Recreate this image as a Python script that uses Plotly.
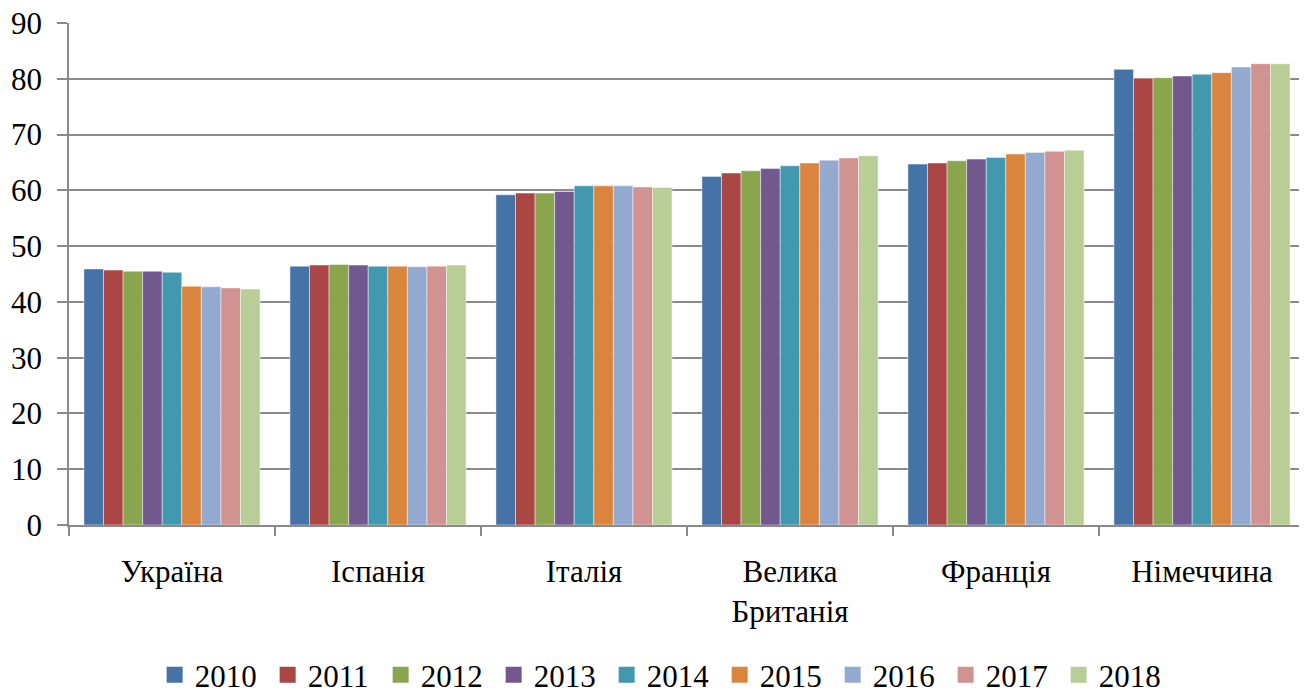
import plotly.graph_objects as go

countries = ["Україна", "Іспанія", "Італія", "Велика<br>Британія", "Франція", "Німеччина"]
years = ["2010", "2011", "2012", "2013", "2014", "2015", "2016", "2017", "2018"]

v2010 = [45.9, 46.4, 59.2, 62.5, 64.7, 81.7]
v2011 = [45.7, 46.6, 59.5, 63.1, 64.9, 80.1]
v2012 = [45.5, 46.7, 59.5, 63.5, 65.3, 80.2]
v2013 = [45.5, 46.6, 59.8, 63.9, 65.6, 80.5]
v2014 = [45.3, 46.4, 60.8, 64.4, 65.9, 80.8]
v2015 = [42.8, 46.4, 60.8, 64.9, 66.5, 81.1]
v2016 = [42.7, 46.3, 60.8, 65.4, 66.8, 82.1]
v2017 = [42.5, 46.4, 60.6, 65.8, 67.0, 82.7]
v2018 = [42.3, 46.6, 60.5, 66.2, 67.2, 82.7]

series = [v2010, v2011, v2012, v2013, v2014, v2015, v2016, v2017, v2018]
colors = ["#4572A7", "#AA4643", "#89A54E", "#71588F", "#4198AF",
          "#DB843D", "#93A9CF", "#D19392", "#B9CD96"]

FONT = "Liberation Serif, Times New Roman, serif"
FS = 31

fig = go.Figure()
for y, vals, c in zip(years, series, colors):
    fig.add_trace(go.Bar(
        name=y, x=countries, y=vals, showlegend=False, legendgroup=y,
        marker=dict(color=c, line=dict(color="rgba(255,255,255,0.45)", width=1)),
    ))
# legend proxies (square markers like the reference legend)
for y, c in zip(years, colors):
    fig.add_trace(go.Scatter(
        name=y, x=[None], y=[None], mode="markers", legendgroup=y,
        marker=dict(symbol="square", size=16, color=c), showlegend=True,
    ))

fig.update_layout(
    width=1307, height=694,
    barmode="group", bargap=0.145, bargroupgap=0,
    paper_bgcolor="white", plot_bgcolor="white",
    margin=dict(l=61, r=10, t=15, b=177, autoexpand=False),
    font=dict(family=FONT, size=FS, color="black"),
    legend=dict(
        orientation="h", x=0.0693, xanchor="left", y=-0.245, yanchor="top",
        font=dict(family=FONT, size=FS, color="black"),
        traceorder="normal", itemsizing="trace", itemwidth=30,
        entrywidth=68, entrywidthmode="pixels",
    ),
    showlegend=True,
)

fig.update_yaxes(
    range=[0, 90], dtick=10, tick0=0, automargin=False,
    showgrid=True, gridcolor="#8a8a8a", gridwidth=1.5,
    showline=True, linecolor="#8a8a8a", linewidth=1.5,
    ticks="outside", ticklen=10, tickcolor="#8a8a8a", tickwidth=1.5,
    ticklabelstandoff=9, ticklabeloverflow="allow",
    zeroline=False,
    tickfont=dict(family=FONT, size=FS, color="black"),
)
fig.update_xaxes(
    automargin=False,
    showline=True, linecolor="#8a8a8a", linewidth=1.5,
    ticks="outside", ticklen=9, tickcolor="#8a8a8a", tickwidth=1.5,
    tickson="boundaries", ticklabelstandoff=18, ticklabeloverflow="allow",
    showgrid=False,
    tickfont=dict(family=FONT, size=FS, color="black"),
)

fig.write_html("out.html")
